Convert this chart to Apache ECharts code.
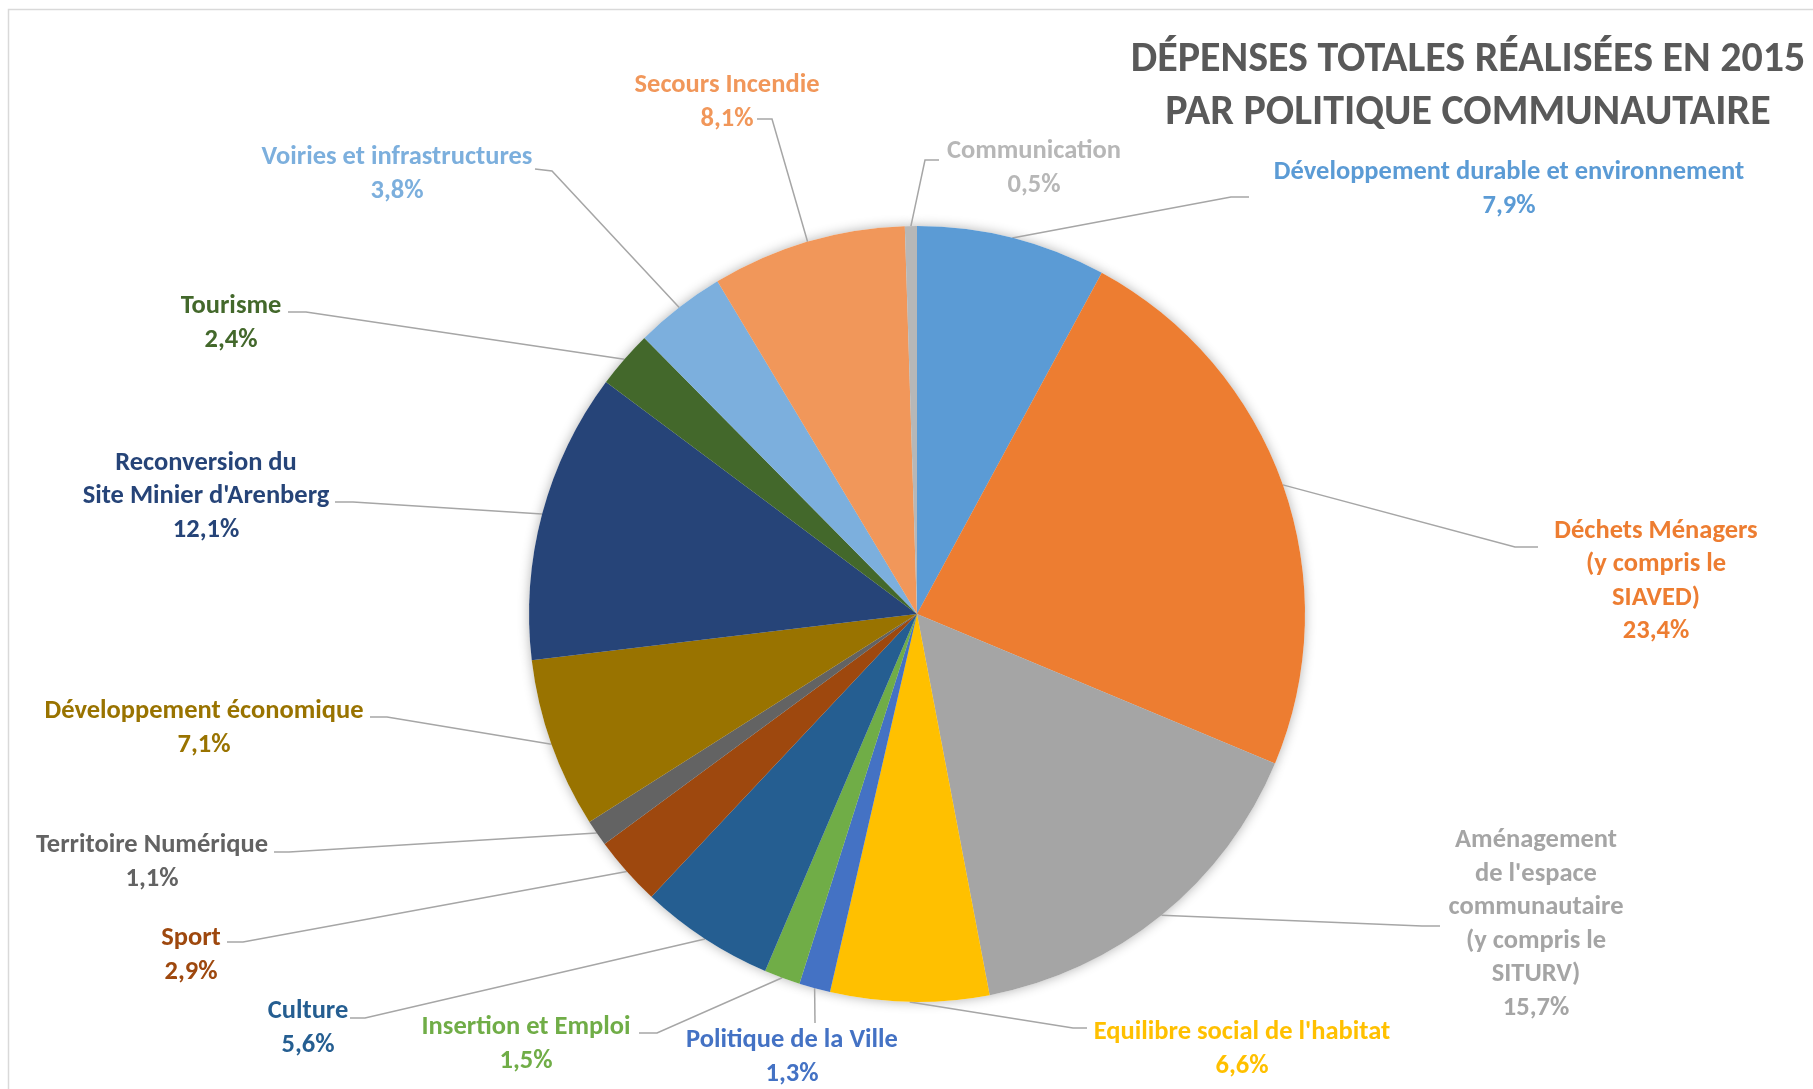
<!DOCTYPE html>
<html>
<head>
<meta charset="utf-8">
<script src="https://cdn.jsdelivr.net/npm/echarts@6/dist/echarts.min.js"></script>
<style>
html, body { margin: 0; padding: 0; background: #ffffff; }
#chart { width: 1813px; height: 1089px; }
</style>
</head>
<body>
<div id="chart"></div>
<script>
// ---- data ----
const categories = [
  "Développement durable et environnement",
  "Déchets Ménagers\n(y compris le\nSIAVED)",
  "Aménagement\nde l'espace\ncommunautaire\n(y compris le\nSITURV)",
  "Equilibre social de l'habitat",
  "Politique de la Ville",
  "Insertion et Emploi",
  "Culture",
  "Sport",
  "Territoire Numérique",
  "Développement économique",
  "Reconversion du\nSite Minier d'Arenberg",
  "Tourisme",
  "Voiries et infrastructures",
  "Secours Incendie",
  "Communication"
];
const values = [7.9, 23.4, 15.7, 6.6, 1.3, 1.5, 5.6, 2.9, 1.1, 7.1, 12.1, 2.4, 3.8, 8.1, 0.5];
const colors = [
  "#5B9BD5", "#ED7D31", "#A5A5A5", "#FFC000", "#4472C4", "#70AD47", "#255E91",
  "#9E480E", "#636363", "#997300", "#264478", "#43682B", "#7CAFDD", "#F1975A", "#B7B7B7"
];
const titleLines = ["DÉPENSES TOTALES RÉALISÉES EN 2015", "PAR POLITIQUE COMMUNAUTAIRE"];

// ---- label placement (annotation positions, px) ----
const labelCenters = [
  [1509, 189.5], [1656, 581.5], [1536, 924.5], [1242, 1049.5], [792, 1057.5],
  [526, 1044.5], [308, 1028.5], [191, 955.5], [152, 862.5], [204, 728.5],
  [206, 496.5], [231, 323.5], [397, 174.5], [727, 102.5], [1034, 168.5]
];
const leaderEnds = [ // [kneeX, kneeY, endX, endY]
  [1231, 197, 1249, 197], [1515, 547, 1538, 547], [1422, 926, 1440, 926],
  [1073, 1028, 1087, 1028], [815, 1023, 815, 1023], [657, 1033, 639, 1033],
  [365, 1018, 350, 1018], [243, 942, 227, 942], [289, 852, 274, 852],
  [387, 717, 370, 717], [353, 502, 335, 502], [306, 312, 288, 312],
  [552, 171, 535, 169], [772, 119, 757, 119], [925, 160, 939, 160]
];

const FONT = 'Carlito, Lato, "Open Sans", sans-serif';
const fmt = v => v.toFixed(1).replace('.', ',') + '%';

const chart = echarts.init(document.getElementById('chart'), null, { renderer: 'canvas' });

const mainData = categories.map((n, i) => ({
  name: n,
  value: values[i],
  itemStyle: { color: colors[i] },
  label: { color: colors[i] }
}));
const shadowData = categories.map((n, i) => ({ name: n, value: values[i] }));

const option = {
  animation: false,
  backgroundColor: '#ffffff',
  graphic: [
    {
      type: 'rect', silent: true, z: 0,
      shape: { x: 8.5, y: 9.5, width: 1900, height: 1200 },
      style: { fill: null, stroke: '#D9D9D9', lineWidth: 1.5 }
    },
    {
      type: 'text', silent: true, x: 1468, y: 33.5, z: 10,
      style: {
        text: titleLines.join('\n'),
        align: 'center', verticalAlign: 'top',
        fontFamily: FONT, fontSize: 42, fontWeight: 'bold',
        lineHeight: 53, fill: '#595959'
      }
    }
  ],
  series: [
    {
      type: 'pie', silent: true, z: 1,
      center: [917, 614], radius: 388, startAngle: 90,
      data: shadowData,
      label: { show: false }, labelLine: { show: false },
      itemStyle: { color: '#ffffff', shadowBlur: 12, shadowColor: 'rgba(0,0,0,0.30)' }
    },
    {
      type: 'pie', z: 2,
      center: [917, 614], radius: 388, startAngle: 90,
      avoidLabelOverlap: false,
      data: mainData,
      itemStyle: { borderWidth: 0 },
      label: {
        show: true, position: 'outside',
        formatter: p => p.name + '\n' + fmt(p.value),
        fontFamily: FONT, fontSize: 26.5, fontWeight: 'bold',
        lineHeight: 33.5, align: 'center',
        width: 700, overflow: 'none'
      },
      labelLine: {
        show: true, length: 10, length2: 10,
        lineStyle: { color: '#A6A6A6', width: 1.5 }
      },
      labelLayout: function (p) {
        const i = p.dataIndex;
        const c = labelCenters[i];
        const e = leaderEnds[i];
        const pts = p.labelLinePoints;
        const start = pts && pts[0] ? pts[0] : [e[0], e[1]];
        return {
          x: c[0], y: c[1],
          align: 'center', verticalAlign: 'middle',
          labelLinePoints: [start, [e[0], e[1]], [e[2], e[3]]]
        };
      }
    }
  ]
};
chart.setOption(option);
</script>
</body>
</html>
